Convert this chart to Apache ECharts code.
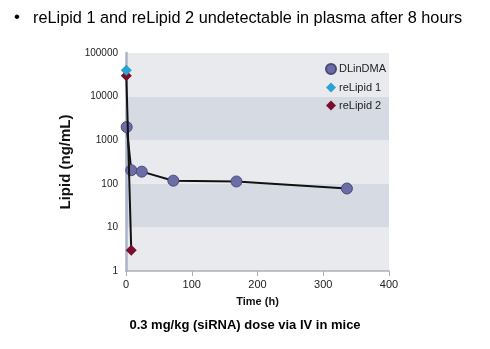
<!DOCTYPE html>
<html><head><meta charset="utf-8">
<script src="https://cdn.jsdelivr.net/npm/echarts@6/dist/echarts.min.js"></script>
<style>html,body{margin:0;padding:0;background:#fff}#c{width:490px;height:349px}</style>
</head><body><div id="c"></div>
<script>
const dlinTime = [1, 8, 24, 72, 168, 336];
const dlinValue = [2000, 205, 190, 118, 113, 78];
const re1Time = [0.5];
const re1Value = [40000];
const re2Time = [0.5, 8];
const re2Value = [30000, 3];
const xTicks = [0, 100, 200, 300, 400];
const yTicks = [1, 10, 100, 1000, 10000, 100000];
const seriesNames = ['DLinDMA', 'reLipid 1', 'reLipid 2'];

const chart = echarts.init(document.getElementById('c'));
const pairs = (t, v) => t.map((x, i) => [x, v[i]]);
chart.setOption({
  animation: false,
  textStyle: {fontFamily: 'Liberation Sans, Arial, sans-serif'},
  grid: {left: 126, right: 101, top: 53, bottom: 78},
  graphic: [
    {type: 'text', left: 14, top: 9, style: {text: '•', fill: '#000', font: '17px Liberation Sans'}},
    {type: 'text', left: 33, top: 11, style: {text: 'reLipid 1 and reLipid 2 undetectable in plasma after 8 hours', fill: '#000', font: '16.3px Liberation Sans'}},
    {type: 'text', left: 'center', top: 319, style: {text: '0.3 mg/kg (siRNA) dose via IV in mice', fill: '#000', font: 'bold 13px Liberation Sans', x: 17}}
  ],
  legend: {
    orient: 'vertical', left: 320, top: 58, itemGap: 7, itemWidth: 10, itemHeight: 10,
    data: [
      {name: seriesNames[0], icon: 'circle'},
      {name: seriesNames[1], icon: 'diamond'},
      {name: seriesNames[2], icon: 'diamond'}
    ],
    textStyle: {fontSize: 11, color: '#222', padding: [0, 0, 0, -2]}
  },
  xAxis: {
    type: 'value', min: xTicks[0], max: xTicks[xTicks.length - 1], interval: 100,
    name: 'Time (h)', nameLocation: 'middle', nameGap: 25,
    nameTextStyle: {fontWeight: 'bold', fontSize: 11, color: '#111'},
    axisLine: {show: true, lineStyle: {color: '#b0b0b0', width: 1.5}},
    axisTick: {show: true, length: 5, lineStyle: {color: '#b0b0b0'}},
    axisLabel: {fontSize: 11, color: '#222', margin: 8},
    splitLine: {show: false}
  },
  yAxis: {
    type: 'log', logBase: 10, min: yTicks[0], max: yTicks[yTicks.length - 1],
    name: 'Lipid (ng/mL)', nameLocation: 'middle', nameGap: 49, nameRotate: 90,
    nameTextStyle: {fontWeight: 'bold', fontSize: 15, color: '#111'},
    axisLine: {show: true, lineStyle: {color: '#a9b3c9', width: 2.5}},
    axisTick: {show: false},
    axisLabel: {fontSize: 10, color: '#222', margin: 8, formatter: v => String(v)},
    splitLine: {show: false},
    splitArea: {show: true, areaStyle: {color: ['#e9eaee', '#d6dbe3']}}
  },
  series: [
    {name: seriesNames[0], type: 'line', data: pairs(dlinTime, dlinValue), symbol: 'circle', symbolSize: 11,
     lineStyle: {color: '#111', width: 2}, itemStyle: {color: '#6c6da6', borderColor: '#4a4a7a', borderWidth: 1}, z: 3},
    {name: seriesNames[2], type: 'line', data: pairs(re2Time, re2Value), symbol: 'diamond', symbolSize: 11,
     lineStyle: {color: '#111', width: 2}, itemStyle: {color: '#7a0f2c'}, z: 4},
    {name: seriesNames[1], type: 'line', data: pairs(re1Time, re1Value), symbol: 'diamond', symbolSize: 11,
     lineStyle: {color: '#111', width: 2}, itemStyle: {color: '#2aa3cf'}, z: 5}
  ]
});
</script></body></html>
